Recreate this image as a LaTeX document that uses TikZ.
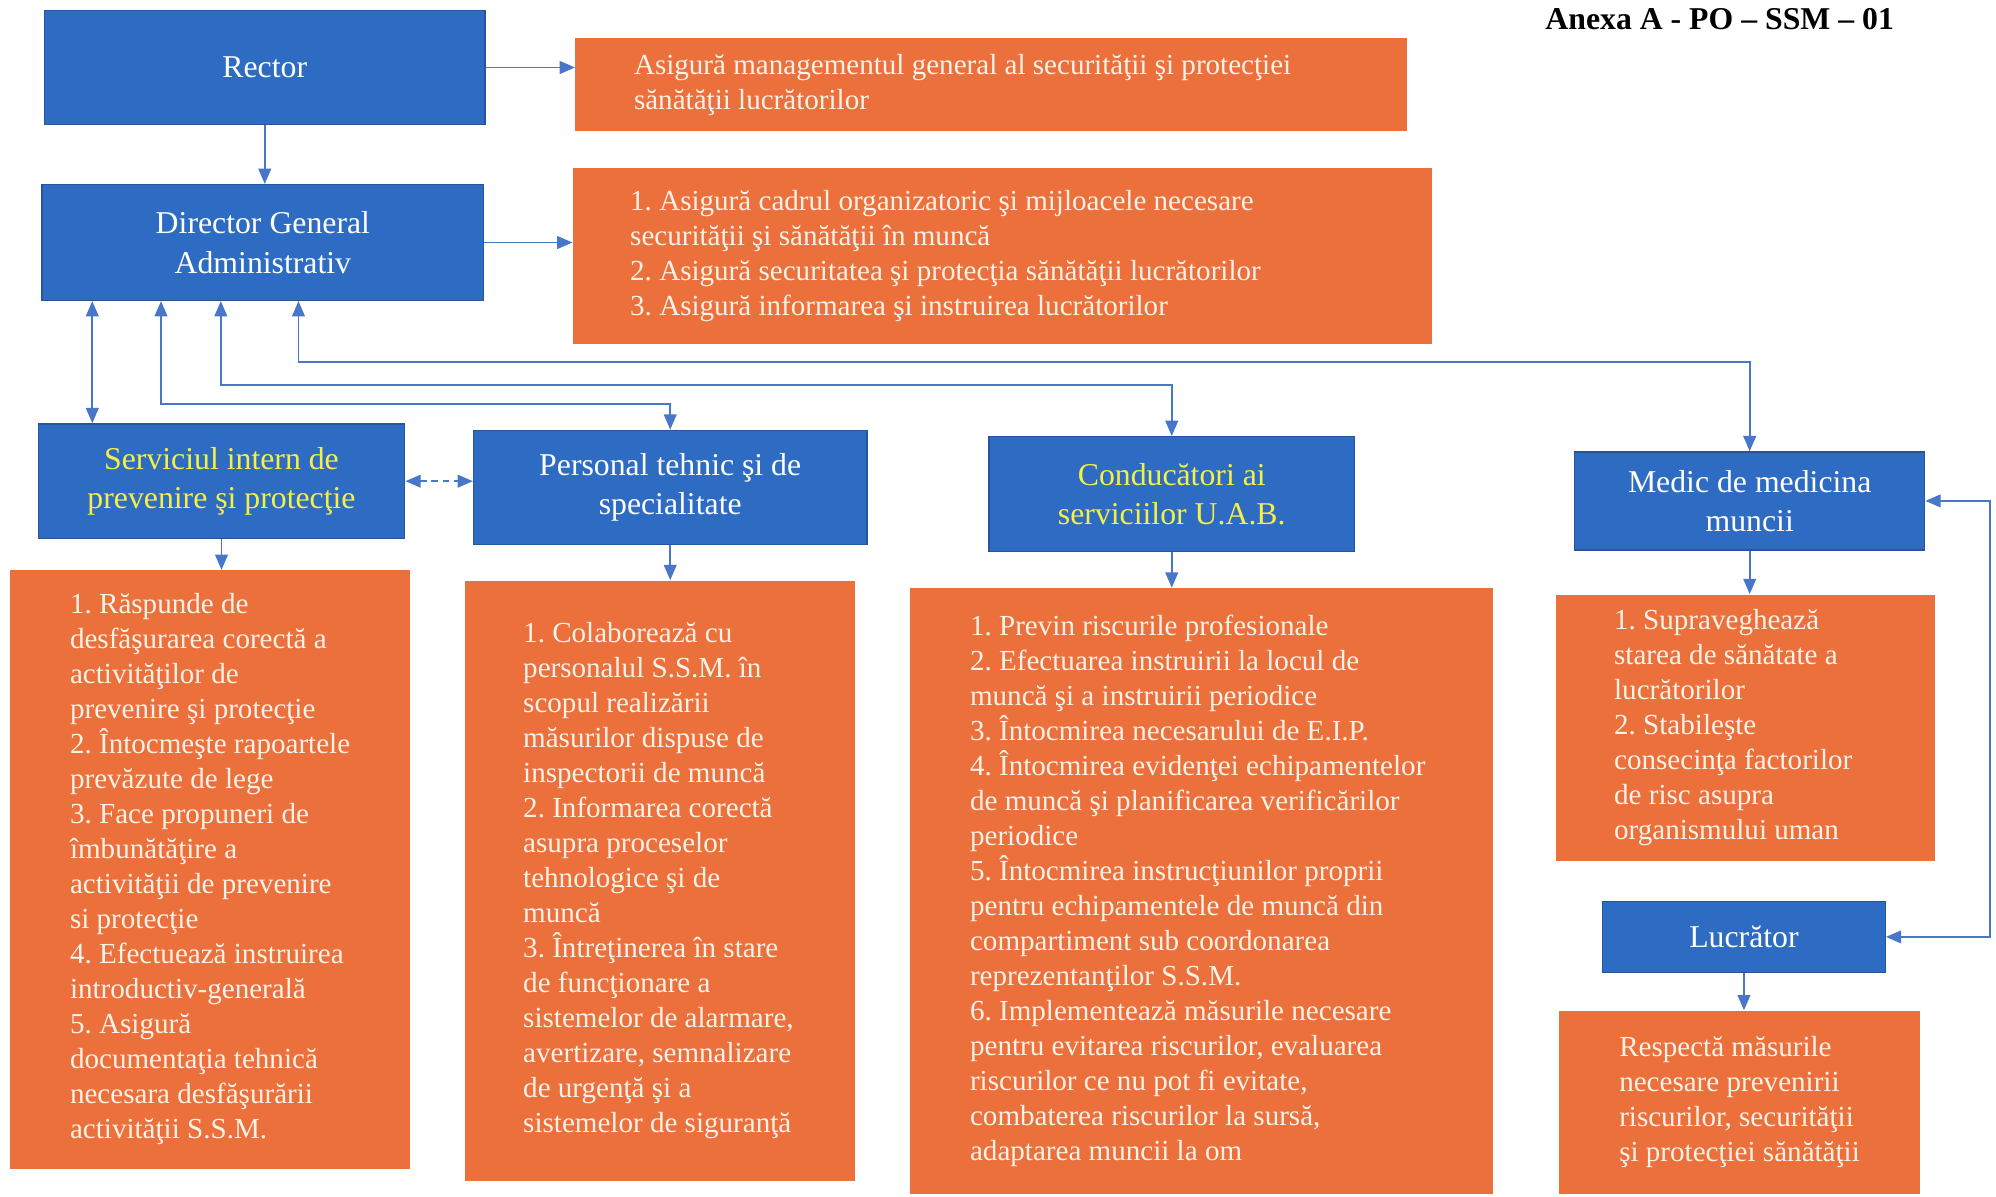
\documentclass[tikz,border=0pt]{standalone}
\usepackage{fontspec}
\setmainfont{Liberation Serif}
\usepackage{xcolor}
\usetikzlibrary{
	arrows.meta
}

\definecolor{boxblue}{RGB}{46,108,196}
\definecolor{boxorange}{RGB}{236,112,60}
\definecolor{linkblue}{RGB}{72,118,200}
\definecolor{titleyellow}{RGB}{245,240,70}
\definecolor{textcream}{RGB}{252,242,232}

\newcommand{\boxtitlefont}{\fontsize{14.2}{17.6}\selectfont}
\newcommand{\boxbodyfont}{\fontsize{13}{15.65}\selectfont}
\frenchspacing

\begin{document}
\begin{tikzpicture}[x=0.02cm, y=-0.02cm,
		blue-box/.style={fill=boxblue, draw=boxblue!80!black, line width=0.6pt,
			text=white, align=center, font=\boxtitlefont, inner sep=0pt},
		orange-box/.style={fill=boxorange, draw=none, inner sep=0pt},
		orange-text/.style={text=textcream, align=left, font=\boxbodyfont,
			inner sep=0pt, anchor=west},
		link/.style={draw=linkblue, line width=0.8pt,
			-{Triangle[length=0.24cm,width=0.2cm]}},
		both-link/.style={link,
			{Triangle[length=0.24cm,width=0.2cm]}-{Triangle[length=0.24cm,width=0.2cm]}}]
		\useasboundingbox (0,0) rectangle (1568,940);

		\node[anchor=east, font=\bfseries\fontsize{14.2}{17}\selectfont] at (1494, 15) (annex-label)
			{Anexa A - PO – SSM – 01};

		% top row
		\node[blue-box, minimum width=6.92cm, minimum height=1.8cm] at (208, 53) (rector)
			{Rector};
		\node[orange-box, minimum width=13.06cm, minimum height=1.46cm] at (778.5, 66.5) (rector-tasks) {};
		\node[orange-text] at ([xshift=0.92cm]rector-tasks.west) (rector-tasks-text)
			{Asigură managementul general al securităţii şi protecţiei \\
				sănătăţii lucrătorilor};

		\node[blue-box, minimum width=6.94cm, minimum height=1.82cm] at (206.5, 190.5) (director-general)
			{Director General \\ Administrativ};
		\node[orange-box, minimum width=13.5cm, minimum height=2.76cm] at (787.5, 201) (director-tasks) {};
		\node[orange-text] at ([xshift=0.9cm]director-tasks.west) (director-tasks-text)
			{1. Asigură cadrul organizatoric şi mijloacele necesare \\
				securităţii şi sănătăţii în muncă \\
				2. Asigură securitatea şi protecţia sănătăţii lucrătorilor \\
				3. Asigură informarea şi instruirea lucrătorilor};

		% middle row
		\node[blue-box, text=titleyellow, minimum width=5.76cm, minimum height=1.8cm] at (174, 378) (prevention-service)
			{Serviciul intern de \\ prevenire şi protecţie};
		\node[blue-box, minimum width=6.18cm, minimum height=1.8cm] at (526.5, 383) (technical-staff)
			{Personal tehnic şi de \\ specialitate};
		\node[blue-box, text=titleyellow, minimum width=5.74cm, minimum height=1.8cm] at (920.5, 388) (service-heads)
			{Conducători ai \\ serviciilor U.A.B.};
		\node[blue-box, minimum width=5.5cm, minimum height=1.54cm] at (1374.5, 393.5) (occupational-doctor)
			{Medic de medicina \\ muncii};

		% bottom row
		\node[orange-box, minimum width=6.28cm, minimum height=9.4cm] at (165, 683) (prevention-tasks) {};
		\node[orange-text] at ([xshift=0.94cm]prevention-tasks.west) (prevention-tasks-text)
			{1. Răspunde de \\
				desfăşurarea corectă a \\
				activităţilor de \\
				prevenire şi protecţie \\
				2. Întocmeşte rapoartele \\
				prevăzute de lege \\
				3. Face propuneri de \\
				îmbunătăţire a \\
				activităţii de prevenire \\
				si protecţie \\
				4. Efectuează instruirea \\
				introductiv-generală \\
				5. Asigură \\
				documentaţia tehnică \\
				necesara desfăşurării \\
				activităţii S.S.M.};

		\node[orange-box, minimum width=6.14cm, minimum height=9.44cm] at (518.5, 692) (technical-tasks) {};
		\node[orange-text] at ([xshift=0.92cm]technical-tasks.west) (technical-tasks-text)
			{1. Colaborează cu \\
				personalul S.S.M. în \\
				scopul realizării \\
				măsurilor dispuse de \\
				inspectorii de muncă \\
				2. Informarea corectă \\
				asupra proceselor \\
				tehnologice şi de \\
				muncă \\
				3. Întreţinerea în stare \\
				de funcţionare a \\
				sistemelor de alarmare, \\
				avertizare, semnalizare \\
				de urgenţă şi a \\
				sistemelor de siguranţă};

		\node[orange-box, minimum width=9.16cm, minimum height=9.52cm] at (944, 700) (heads-tasks) {};
		\node[orange-text] at ([xshift=0.94cm]heads-tasks.west) (heads-tasks-text)
			{1. Previn riscurile profesionale \\
				2. Efectuarea instruirii la locul de \\
				muncă şi a instruirii periodice \\
				3. Întocmirea necesarului de E.I.P. \\
				4. Întocmirea evidenţei echipamentelor \\
				de muncă şi planificarea verificărilor \\
				periodice \\
				5. Întocmirea instrucţiunilor proprii \\
				pentru echipamentele de muncă din \\
				compartiment sub coordonarea \\
				reprezentanţilor S.S.M. \\
				6. Implementează măsurile necesare \\
				pentru evitarea riscurilor, evaluarea \\
				riscurilor ce nu pot fi evitate, \\
				combaterea riscurilor la sursă, \\
				adaptarea muncii la om};

		\node[orange-box, minimum width=5.96cm, minimum height=4.18cm] at (1371, 571.5) (doctor-tasks) {};
		\node[orange-text] at ([xshift=0.92cm]doctor-tasks.west) (doctor-tasks-text)
			{1. Supraveghează \\
				starea de sănătate a \\
				lucrătorilor \\
				2. Stabileşte \\
				consecinţa factorilor \\
				de risc asupra \\
				organismului uman};

		\node[blue-box, minimum width=4.44cm, minimum height=1.12cm] at (1370, 736) (worker)
			{Lucrător};
		\node[orange-box, minimum width=5.66cm, minimum height=2.88cm] at (1366.5, 866) (worker-tasks) {};
		\node[orange-text] at ([xshift=0.94cm]worker-tasks.west) (worker-tasks-text)
			{Respectă măsurile \\
				necesare prevenirii \\
				riscurilor, securităţii \\
				şi protecţiei sănătăţii};

		% connectors
		\draw[link] (rector.east) -- (rector.east -| rector-tasks.west);
		\draw[link] (rector.south) -- (rector.south |- director-general.north);
		\draw[link] (director-general.east) -- (director-general.east -| director-tasks.west);

		\draw[both-link] ([xshift=0.8cm]director-general.south west)
			-- ([xshift=0.8cm]director-general.south west |- prevention-service.north);
		\draw[both-link] ([xshift=1.88cm]director-general.south west) -- ++(0,81) -| (technical-staff.north);
		\draw[both-link] ([xshift=2.82cm]director-general.south west) -- ++(0,66) -| (service-heads.north);
		\draw[both-link] ([xshift=4.04cm]director-general.south west) -- ++(0,48) -| (occupational-doctor.north);

		\draw[both-link, dash pattern=on 3pt off 2pt] (prevention-service.east)
			-- (prevention-service.east -| technical-staff.west);

		\draw[link] (prevention-service.south) -- (prevention-service.south |- prevention-tasks.north);
		\draw[link] (technical-staff.south) -- (technical-staff.south |- technical-tasks.north);
		\draw[link] (service-heads.south) -- (service-heads.south |- heads-tasks.north);
		\draw[link] (occupational-doctor.south) -- (occupational-doctor.south |- doctor-tasks.north);
		\draw[link] (worker.south) -- (worker.south |- worker-tasks.north);

		\draw[both-link] (worker.east) -- ++(82,0) |- (occupational-doctor.east);
	\end{tikzpicture}
\end{document}
